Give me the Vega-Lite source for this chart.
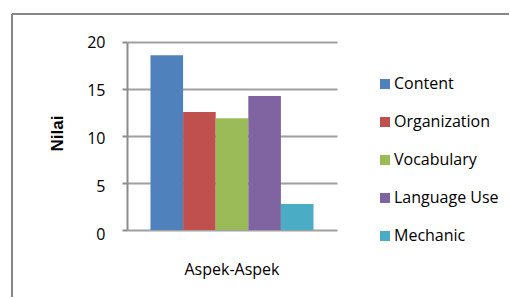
{
  "$schema": "https://vega.github.io/schema/vega-lite/v6.json",
  "autosize": {"type": "none"},
  "padding": {"left": 12, "top": 14, "right": 1, "bottom": 1},
  "width": 497,
  "height": 283,
  "background": "white",
  "config": {
    "view": {"stroke": "#868686", "strokeWidth": 2, "strokeDash": [497, 780, 283, 0], "fill": "white"},
    "font": "Open Sans"
  },
  "data": {
    "values": [
      {"kategori": "Aspek-Aspek", "aspek": "Content", "nilai": 18.6},
      {"kategori": "Aspek-Aspek", "aspek": "Organization", "nilai": 12.55},
      {"kategori": "Aspek-Aspek", "aspek": "Vocabulary", "nilai": 11.9},
      {"kategori": "Aspek-Aspek", "aspek": "Language Use", "nilai": 14.25},
      {"kategori": "Aspek-Aspek", "aspek": "Mechanic", "nilai": 2.77}
    ]
  },
  "mark": {"type": "bar"},
  "encoding": {
    "x": {
      "field": "kategori",
      "type": "nominal",
      "scale": {"range": [115, 325], "paddingInner": 0, "paddingOuter": 0.144},
      "axis": {
        "orient": "bottom",
        "offset": -67,
        "title": null,
        "domain": false,
        "ticks": false,
        "tickSize": 0,
        "grid": false,
        "labelAngle": 0,
        "labelFont": "Open Sans",
        "labelFontSize": 16,
        "labelColor": "#000000",
        "labelBaseline": "middle",
        "labelPadding": 39
      }
    },
    "xOffset": {
      "field": "aspek",
      "type": "nominal",
      "sort": ["Content", "Organization", "Vocabulary", "Language Use", "Mechanic"],
      "scale": {"paddingInner": 0, "paddingOuter": 0}
    },
    "y": {
      "field": "nilai",
      "type": "quantitative",
      "scale": {"domain": [0, 20], "range": [216, 28], "nice": false, "zero": true},
      "axis": {
        "orient": "left",
        "offset": -115,
        "values": [0, 5, 10, 15, 20],
        "grid": true,
        "gridColor": "#a0a0a0",
        "gridWidth": 2,
        "gridOpacity": 1,
        "domain": true,
        "domainColor": "#8c8c8c",
        "domainWidth": 2,
        "ticks": true,
        "tickSize": 5,
        "tickColor": "#8c8c8c",
        "tickWidth": 2,
        "labelFont": "Open Sans",
        "labelFontSize": 16,
        "labelColor": "#000000",
        "labelPadding": 17,
        "labelOffset": {"expr": "4.9 - 0.2 * datum.value"},
        "title": "Nilai",
        "titleFont": "Liberation Sans",
        "titleFontSize": 17,
        "titleFontWeight": "bold",
        "titleColor": "#000000",
        "titleAngle": 270,
        "titleX": -70,
        "titleY": 119,
        "titleAlign": "center",
        "titleBaseline": "middle"
      }
    },
    "color": {
      "field": "aspek",
      "type": "nominal",
      "sort": ["Content", "Organization", "Vocabulary", "Language Use", "Mechanic"],
      "scale": {
        "domain": ["Content", "Organization", "Vocabulary", "Language Use", "Mechanic"],
        "range": ["#4F81BD", "#C0504D", "#9BBB59", "#8064A2", "#4BACC6"]
      },
      "legend": {
        "title": null,
        "orient": "none",
        "legendX": 365,
        "legendY": 62,
        "padding": 0,
        "symbolType": "square",
        "symbolSize": 100,
        "symbolStrokeWidth": 0,
        "symbolOpacity": 1,
        "labelFont": "Open Sans",
        "labelFontSize": 16,
        "labelColor": "#000000",
        "labelOffset": 1,
        "rowPadding": 22
      }
    }
  }
}
